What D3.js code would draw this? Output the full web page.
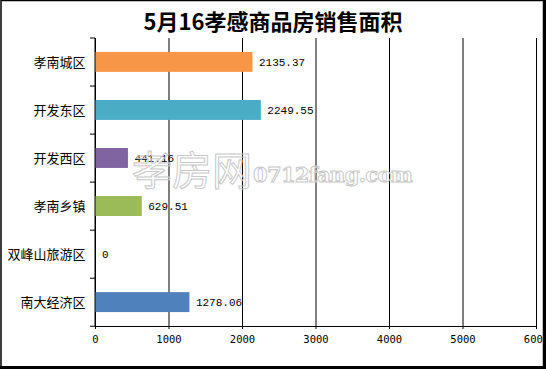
<!DOCTYPE html>
<html>
<head>
<meta charset="utf-8">
<script src="https://cdn.jsdelivr.net/npm/d3@7"></script>
<style>
  body { margin: 0; background: #fff; }
  svg { display: block; }
</style>
</head>
<body>
<div id="chart"></div>
<script>
const categories = ['孝南城区', '开发东区', '开发西区', '孝南乡镇', '双峰山旅游区', '南大经济区'];
const values = [2135.37, 2249.55, 441.16, 629.51, 0, 1278.06];
const colors = ['#F79646', '#4BACC6', '#8064A2', '#9BBB59', '#4F81BD', '#4F81BD'];
const xTicks = [0, 1000, 2000, 3000, 4000, 5000, 6000];
const title = '5月16孝感商品房销售面积';

const width = 546;
const height = 369;
const margin = { top: 38, right: 10, bottom: 43, left: 95 };

const svg = d3.select('#chart')
  .append('svg')
  .attr('width', width)
  .attr('height', height);

const x = d3.scaleLinear()
  .domain([0, 6000])
  .range([margin.left, width - margin.right]);

const y = d3.scaleBand()
  .domain(categories)
  .range([margin.top, height - margin.bottom])
  .paddingInner(0.585)
  .paddingOuter(0.29);

// outer frame
svg.append('rect')
  .attr('x', 1).attr('y', 0.5)
  .attr('width', width - 3.5).attr('height', height - 2.5)
  .attr('fill', 'none').attr('stroke', '#000').attr('stroke-width', 1.5);
svg.append('line')
  .attr('x1', width - 1.5).attr('x2', width - 1.5)
  .attr('y1', 0).attr('y2', height)
  .attr('stroke', '#000').attr('stroke-width', 3);
svg.append('line')
  .attr('x1', 0).attr('x2', width)
  .attr('y1', height - 1.5).attr('y2', height - 1.5)
  .attr('stroke', '#000').attr('stroke-width', 3);

// title
svg.append('text')
  .attr('x', width / 2)
  .attr('y', 30)
  .attr('text-anchor', 'middle')
  .attr('font-family', '"Noto Sans CJK SC", sans-serif')
  .attr('font-weight', 'bold')
  .attr('font-size', 22)
  .attr('fill', '#000')
  .text(title);

// x axis with full-height gridlines
svg.append('g')
  .attr('transform', `translate(0,${height - margin.bottom})`)
  .call(d3.axisBottom(x).tickValues(xTicks).tickSizeOuter(0).tickSize(3).tickFormat(d3.format('d')))
  .call((g) => g.select('.domain').attr('stroke', '#000'))
  .call((g) =>
    g.selectAll('.tick line')
      .clone()
      .attr('y1', 0)
      .attr('y2', -(height - margin.top - margin.bottom))
      .attr('stroke', '#000')
  )
  .call((g) =>
    g.selectAll('.tick text')
      .attr('y', 10)
      .attr('font-family', '"DejaVu Sans Mono", monospace')
      .attr('font-size', 10.5)
      .attr('fill', '#000')
  );

// y axis: ticks at band boundaries
const bandEdges = categories.map((c) => y(c) - y.step() * y.paddingInner() / 2);
bandEdges.push(height - margin.bottom);
const yAxisG = svg.append('g');
yAxisG.append('line')
  .attr('x1', margin.left).attr('x2', margin.left)
  .attr('y1', margin.top).attr('y2', height - margin.bottom)
  .attr('stroke', '#000');
yAxisG.selectAll('.ytick')
  .data(d3.range(categories.length + 1))
  .join('line')
  .attr('class', 'ytick')
  .attr('x1', margin.left - 5).attr('x2', margin.left)
  .attr('y1', (i) => margin.top + i * y.step())
  .attr('y2', (i) => margin.top + i * y.step())
  .attr('stroke', '#000');
yAxisG.selectAll('.ylabel')
  .data(categories)
  .join('text')
  .attr('class', 'ylabel')
  .attr('x', margin.left - 9.5)
  .attr('y', (d) => y(d) + y.bandwidth() / 2)
  .attr('dy', '0.36em')
  .attr('text-anchor', 'end')
  .attr('font-family', '"Noto Sans CJK SC", sans-serif')
  .attr('font-size', 13)
  .attr('fill', '#000')
  .text((d) => d);

// bars
svg.append('g')
  .selectAll('rect')
  .data(values)
  .join('rect')
  .attr('x', x(0) + 0.5)
  .attr('y', (d, i) => y(categories[i]))
  .attr('width', (d) => Math.max(0, x(d) - x(0)))
  .attr('height', y.bandwidth())
  .attr('fill', (d, i) => colors[i]);

// value labels
svg.append('g')
  .selectAll('text')
  .data(values)
  .join('text')
  .attr('x', (d) => x(d) + 7)
  .attr('y', (d, i) => y(categories[i]) + y.bandwidth() / 2)
  .attr('dy', '0.36em')
  .attr('font-family', '"Liberation Mono", monospace')
  .attr('font-size', 11)
  .attr('fill', '#000')
  .text((d) => (d === 0 ? '0' : d3.format('.2f')(d)));

// watermark
const wm = svg.append('g')
  .attr('fill', 'none')
  .attr('stroke', '#c8c8c8')
  .attr('stroke-width', 1);
wm.append('text')
  .attr('x', 132).attr('y', 185)
  .attr('font-family', '"Noto Sans CJK SC", sans-serif')
  .attr('font-size', 40)
  .text('孝房网');
wm.append('text')
  .attr('x', 253).attr('y', 182)
  .attr('font-family', '"DejaVu Serif", serif')
  .attr('font-weight', 'bold')
  .attr('font-size', 21)
  .attr('textLength', 160)
  .text('0712fang.com');
</script>
</body>
</html>
